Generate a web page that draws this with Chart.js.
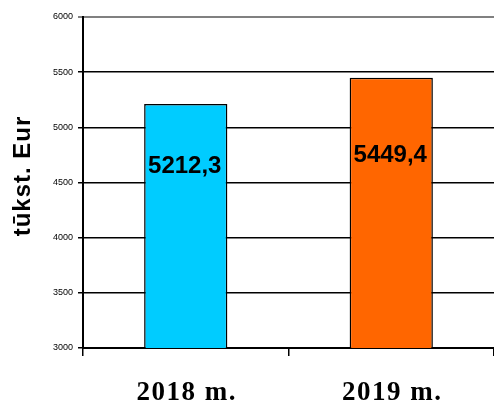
<!DOCTYPE html>
<html>
<head>
<meta charset="utf-8">
<script src="https://cdn.jsdelivr.net/npm/chart.js@4"></script>
<style>
  html, body { margin: 0; padding: 0; background: #fff; }
  #wrap { width: 494px; height: 405px; }
</style>
</head>
<body>
<div id="wrap"><canvas id="c" width="494" height="405"></canvas></div>
<script>
const years = ["2018 m.", "2019 m."];
const values = [5212.3, 5449.4];
const barColors = ["#00CCFF", "#FF6600"];
const yTicks = [3000, 3500, 4000, 4500, 5000, 5500, 6000];
const yTitle = "tūkst. Eur";

// texts: value labels inside bars, category labels and y title
const texts = {
  id: "texts",
  afterDatasetsDraw(chart) {
    const ctx = chart.ctx;
    const meta = chart.getDatasetMeta(0);
    const y0 = chart.scales.y.getPixelForValue(yTicks[0]);
    ctx.save();
    ctx.font = "bold 24px Arial, 'Liberation Sans'";
    ctx.fillStyle = "#000";
    ctx.textAlign = "center";
    ctx.textBaseline = "middle";
    meta.data.forEach((bar, i) => {
      const h = y0 - bar.y;
      const y = bar.y + h * 0.577 - 78;
      ctx.fillText(values[i].toFixed(1).replace(".", ","), bar.x - 1, y);
    });

    const xs = chart.scales.x;
    ctx.font = "bold 27px 'Times New Roman', 'Liberation Serif', serif";
    ctx.letterSpacing = "1.5px";
    ctx.textBaseline = "alphabetic";
    years.forEach((t, i) => {
      ctx.fillText(t, xs.getPixelForValue(i) + 1, 400);
    });

    ctx.font = "bold 24px Arial, 'Liberation Sans'";
    ctx.letterSpacing = "1px";
    ctx.translate(30, 176);
    ctx.rotate(-Math.PI / 2);
    ctx.fillText(yTitle, 0, 0);
    ctx.restore();
  }
};

new Chart(document.getElementById("c"), {
  type: "bar",
  data: {
    labels: years,
    datasets: [{
      data: values,
      backgroundColor: barColors,
      borderColor: "#000",
      borderWidth: 1.5,
      barPercentage: 0.405,
      categoryPercentage: 1
    }]
  },
  options: {
    responsive: false,
    animation: false,
    layout: { padding: { top: 17, right: 0, left: 0, bottom: 0 } },
    plugins: { legend: { display: false }, tooltip: { enabled: false } },
    scales: {
      x: {
        grid: { drawOnChartArea: false, color: "#000", lineWidth: 1.5, tickLength: 8, offset: true },
        border: { color: "#000", width: 2 },
        ticks: { display: false },
        afterFit(s) { s.height = 57; }
      },
      y: {
        min: 3000,
        max: 6000,
        afterBuildTicks(s) { s.ticks = yTicks.map(v => ({ value: v })); },
        grid: {
          color: ctx => ctx.tick && ctx.tick.value === 6000 ? "#808080" : "#000",
          lineWidth: ctx => ctx.tick && ctx.tick.value === 6000 ? 2 : 1.5,
          tickLength: 5
        },
        border: { color: "#000", width: 2 },
        ticks: {
          color: "#000",
          padding: 5,
          font: { family: "Arial, 'Liberation Sans'", size: 9 },
          callback: v => String(v)
        },
        afterFit(s) { s.width = 83; }
      }
    }
  },
  plugins: [texts]
});
</script>
</body>
</html>
